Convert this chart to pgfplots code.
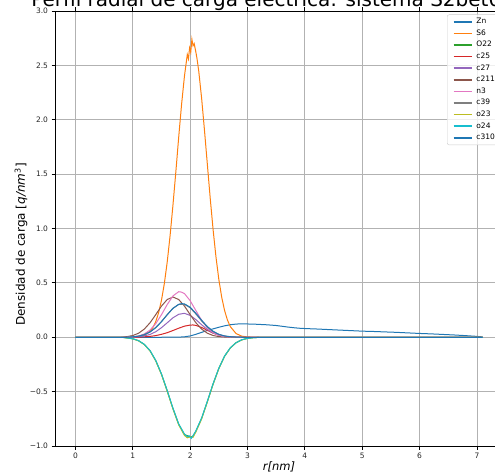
\documentclass[border=0pt]{standalone}
\usepackage{fontspec}
\setmainfont{DejaVu Sans}
\usepackage{pgfplots}
\pgfplotsset{compat=1.18}
\definecolor{tb}{HTML}{1F77B4}
\definecolor{to}{HTML}{FF7F0E}
\definecolor{tg}{HTML}{2CA02C}
\definecolor{tr}{HTML}{D62728}
\definecolor{tp}{HTML}{9467BD}
\definecolor{tbr}{HTML}{8C564B}
\definecolor{tpk}{HTML}{E377C2}
\definecolor{tgr}{HTML}{7F7F7F}
\definecolor{tol}{HTML}{BCBD22}
\definecolor{tc}{HTML}{17BECF}
\begin{document}
\begin{tikzpicture}[x=1pt,y=1pt]
\useasboundingbox (0,0) rectangle (495,474);
\begin{axis}[
  at={(55pt,28pt)}, anchor=south west,
  width=448pt, height=435pt, scale only axis,
  xmin=-0.357, xmax=7.455, ymin=-1, ymax=3,
  xtick={0,1,2,3,4,5,6,7},
  xticklabels={0,1,2,3,4,5,6,7},
  ytick={-1,-0.5,0,0.5,1,1.5,2,2.5,3},
  yticklabels={−1.0,−0.5,0.0,0.5,1.0,1.5,2.0,2.5,3.0},
  tick label style={font=\fontsize{7.5}{9}\selectfont, text=black!85},
  grid=major, major grid style={color=black!30, line width=0.8pt},
  tick align=outside, major tick length=3.5pt,
  tick style={black, line width=0.8pt},
  axis line style={line width=0.8pt},
  every axis plot/.append style={line width=1pt},
  legend style={at={(rel axis cs:0.875,0.992)}, anchor=north west,
    font=\fontsize{7.5}{8}\selectfont, draw=black!20, rounded corners=2pt,
    fill=white, fill opacity=0.8, text opacity=1,
    nodes={inner sep=0.6pt, text height=5.5pt, text depth=1.5pt},
    row sep=3.4pt, inner xsep=5.5pt, inner ysep=3pt,
    /tikz/every odd column/.append style={column sep=3.5pt}},
  legend cell align=left,
  legend image code/.code={\draw[#1, line width=1.6pt] (0pt,0pt) -- (18pt,0pt);},
]
% Zn
\addplot[tb] coordinates {(0,0) (1.5,0) (1.8,0.001) (1.9,0.004) (2.0,0.012) (2.1,0.027) (2.2,0.045) (2.3,0.062) (2.4,0.077) (2.5,0.092) (2.6,0.105) (2.7,0.115) (2.8,0.121) (2.9,0.124) (3.0,0.122) (3.1,0.121) (3.2,0.118) (3.3,0.116) (3.4,0.112) (3.5,0.108) (3.6,0.101) (3.7,0.094) (3.8,0.088) (3.9,0.083) (4.0,0.080) (4.2,0.076) (4.4,0.071) (4.6,0.066) (4.8,0.061) (5.0,0.056) (5.2,0.053) (5.4,0.049) (5.6,0.045) (5.8,0.040) (6.0,0.035) (6.2,0.031) (6.4,0.026) (6.6,0.021) (6.8,0.015) (7.0,0.008) (7.1,0.003)};
\addlegendentry{Zn}
% S6
\addplot[to] coordinates {(0,0) (1.0,0) (1.1,0.004) (1.2,0.017) (1.3,0.053) (1.35,0.089) (1.4,0.144) (1.45,0.226) (1.5,0.341) (1.55,0.495) (1.6,0.693) (1.65,0.935) (1.7,1.216) (1.75,1.52) (1.8,1.84) (1.85,2.14) (1.9,2.40) (1.93,2.52) (1.95,2.60) (1.97,2.56) (1.99,2.66) (2.01,2.62) (2.03,2.74) (2.05,2.68) (2.07,2.70) (2.1,2.62) (2.12,2.56) (2.15,2.445) (2.2,2.196) (2.25,1.90) (2.3,1.587) (2.35,1.276) (2.4,0.988) (2.45,0.738) (2.5,0.531) (2.55,0.368) (2.6,0.246) (2.65,0.158) (2.7,0.098) (2.8,0.034) (2.9,0.010) (3.0,0.003) (3.2,0) (7.1,0)};
\addlegendentry{S6}
% O22
\addplot[tg] coordinates {(0,0) (0.8,0) (0.9,-0.006) (1.0,-0.014) (1.1,-0.032) (1.2,-0.066) (1.3,-0.124) (1.4,-0.215) (1.5,-0.340) (1.6,-0.493) (1.7,-0.656) (1.8,-0.800) (1.9,-0.895) (1.95,-0.905) (2.0,-0.918) (2.05,-0.91) (2.1,-0.864) (2.2,-0.746) (2.3,-0.591) (2.4,-0.429) (2.5,-0.286) (2.6,-0.174) (2.7,-0.098) (2.8,-0.050) (2.9,-0.024) (3.0,-0.010) (3.1,-0.004) (3.2,-0.001) (3.3,0) (7.1,0)};
\addlegendentry{O22}
% c25
\addplot[tr] coordinates {(0,0) (1.1,0) (1.2,0.004) (1.3,0.008) (1.4,0.015) (1.5,0.027) (1.6,0.042) (1.7,0.062) (1.8,0.083) (1.9,0.102) (2.0,0.112) (2.05,0.113) (2.1,0.109) (2.2,0.090) (2.3,0.063) (2.4,0.038) (2.5,0.019) (2.6,0.008) (2.7,0.003) (2.8,0.001) (2.9,0) (7.1,0)};
\addlegendentry{c25}
% c27
\addplot[tp] coordinates {(0,0) (1.0,0) (1.1,0.005) (1.2,0.012) (1.3,0.026) (1.4,0.051) (1.5,0.088) (1.6,0.133) (1.7,0.179) (1.8,0.211) (1.9,0.220) (2.0,0.201) (2.1,0.162) (2.2,0.115) (2.3,0.071) (2.4,0.039) (2.5,0.019) (2.6,0.008) (2.7,0.003) (2.8,0) (7.1,0)};
\addlegendentry{c27}
% c211
\addplot[tbr] coordinates {(0,0) (0.8,0) (0.9,0.006) (1.0,0.016) (1.1,0.037) (1.2,0.075) (1.3,0.133) (1.4,0.208) (1.5,0.287) (1.6,0.347) (1.7,0.370) (1.8,0.347) (1.9,0.287) (2.0,0.208) (2.1,0.133) (2.2,0.075) (2.3,0.037) (2.4,0.016) (2.5,0.006) (2.6,0.002) (2.7,0) (7.1,0)};
\addlegendentry{c211}
% n3
\addplot[tpk] coordinates {(0,0) (0.9,0) (1.0,0.004) (1.1,0.012) (1.2,0.030) (1.3,0.066) (1.4,0.125) (1.5,0.208) (1.6,0.301) (1.7,0.380) (1.8,0.419) (1.85,0.415) (1.9,0.402) (2.0,0.336) (2.1,0.245) (2.2,0.156) (2.3,0.086) (2.4,0.042) (2.5,0.018) (2.6,0.006) (2.7,0.002) (2.8,0) (7.1,0)};
\addlegendentry{n3}
% c39
\addplot[tgr] coordinates {(0,0) (0.9,0) (1.0,0.004) (1.1,0.010) (1.2,0.024) (1.3,0.050) (1.4,0.090) (1.5,0.145) (1.6,0.208) (1.7,0.266) (1.8,0.301) (1.9,0.303) (2.0,0.271) (2.1,0.214) (2.2,0.150) (2.3,0.094) (2.4,0.052) (2.5,0.026) (2.6,0.011) (2.7,0.004) (2.8,0.001) (2.9,0) (7.1,0)};
\addlegendentry{c39}
% o23
\addplot[tol] coordinates {(0,0) (0.8,0) (0.9,-0.006) (1.0,-0.015) (1.1,-0.033) (1.2,-0.067) (1.3,-0.126) (1.4,-0.217) (1.5,-0.343) (1.6,-0.497) (1.7,-0.660) (1.8,-0.806) (1.9,-0.902) (1.95,-0.925) (2.0,-0.915) (2.05,-0.92) (2.1,-0.870) (2.2,-0.751) (2.3,-0.594) (2.4,-0.432) (2.5,-0.288) (2.6,-0.175) (2.7,-0.099) (2.8,-0.051) (2.9,-0.024) (3.0,-0.010) (3.1,-0.004) (3.2,-0.001) (3.3,0) (7.1,0)};
\addlegendentry{o23}
% o24
\addplot[tc] coordinates {(0,0) (0.8,0) (0.9,-0.006) (1.0,-0.014) (1.1,-0.031) (1.2,-0.065) (1.3,-0.122) (1.4,-0.213) (1.5,-0.338) (1.6,-0.490) (1.7,-0.652) (1.8,-0.797) (1.9,-0.890) (1.95,-0.915) (1.98,-0.905) (2.02,-0.930) (2.05,-0.905) (2.1,-0.860) (2.2,-0.742) (2.3,-0.588) (2.4,-0.427) (2.5,-0.285) (2.6,-0.173) (2.7,-0.097) (2.8,-0.050) (2.9,-0.023) (3.0,-0.010) (3.1,-0.004) (3.2,-0.001) (3.3,0) (7.1,0)};
\addlegendentry{o24}
% c310
\addplot[tb] coordinates {(0,0) (0.9,0) (1.0,0.004) (1.1,0.010) (1.2,0.023) (1.3,0.048) (1.4,0.088) (1.5,0.143) (1.6,0.207) (1.7,0.266) (1.8,0.303) (1.85,0.309) (1.9,0.307) (2.0,0.276) (2.1,0.220) (2.2,0.156) (2.3,0.098) (2.4,0.055) (2.5,0.027) (2.6,0.012) (2.7,0.005) (2.8,0.002) (2.9,0) (7.1,0)};
\addlegendentry{c310}
\end{axis}
\node[anchor=base, font=\fontsize{20}{24}\selectfont] at (279,467) {Perfil radial de carga eléctrica: sistema S2bet002};
\node[rotate=90, font=\fontsize{12}{14}\selectfont] at (21,229.5) {Densidad de carga [\textit{q/nm}\textsuperscript{3}]};
\node[anchor=base, font=\fontsize{11.5}{13}\selectfont\itshape] at (279,3.5) {r[nm]};
\end{tikzpicture}
\end{document}
